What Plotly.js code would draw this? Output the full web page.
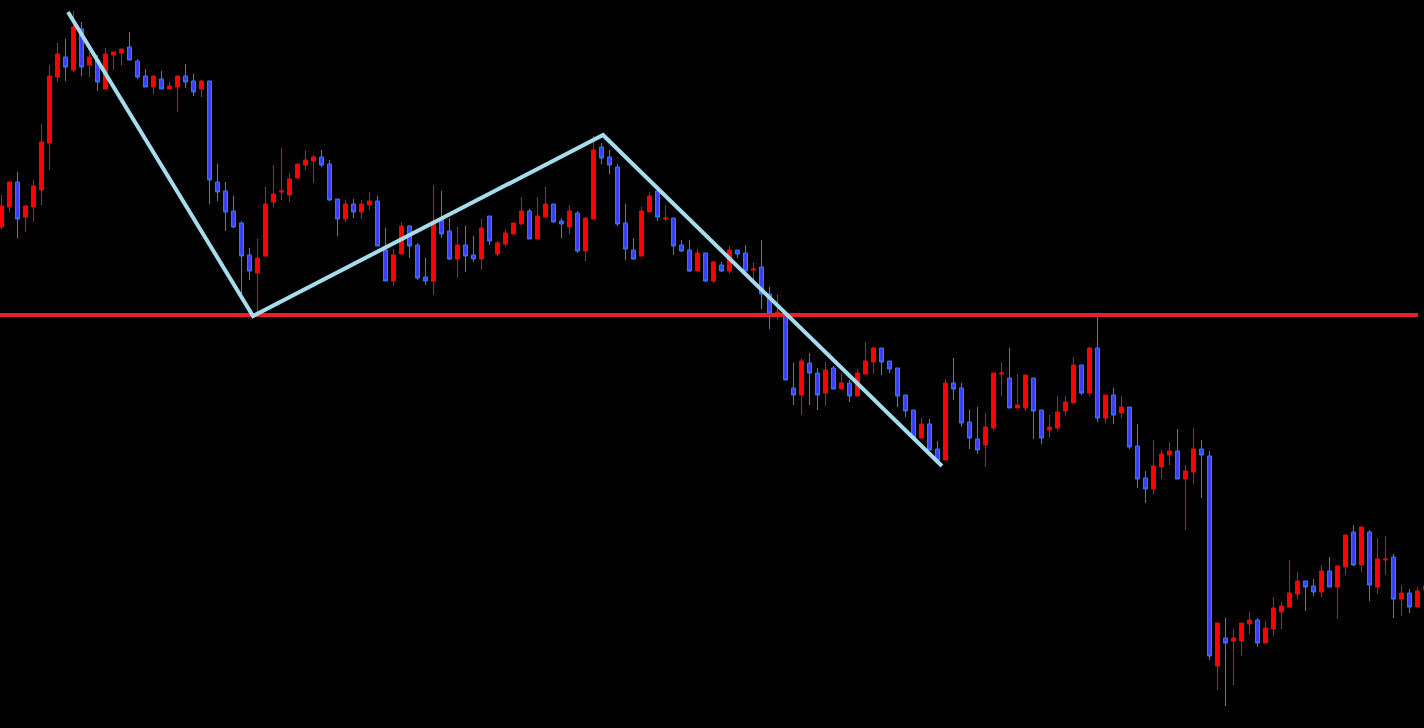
<!DOCTYPE html>
<html>
<head>
<meta charset="utf-8">
<script src="https://cdn.plot.ly/plotly-3.0.1.min.js"></script>
<style>html,body{margin:0;padding:0;background:#000;}#chart{width:1424px;height:728px;}</style>
</head>
<body>
<div id="chart"></div>
<script>
const openP = [
1.2573,1.2593,1.2618,1.2583,1.2593,1.2610,1.2657,1.2723,1.2743,1.2730,
1.2771,1.2735,1.2740,1.2711,1.2745,1.2747,1.2753,1.2739,1.2724,1.2713,
1.2721,1.2711,1.2713,1.2724,1.2719,1.2711,1.2719,1.2618,1.2609,1.2589,
1.2577,1.2545,1.2527,1.2544,1.2598,1.2608,1.2605,1.2622,1.2635,1.2639,
1.2643,1.2636,1.2601,1.2581,1.2596,1.2588,1.2595,1.2599,1.2550,1.2519,
1.2546,1.2574,1.2555,1.2523,1.2519,1.2580,1.2569,1.2541,1.2555,1.2545,
1.2541,1.2584,1.2546,1.2556,1.2566,1.2576,1.2589,1.2561,1.2583,1.2596,
1.2579,1.2573,1.2587,1.2549,1.2581,1.2653,1.2643,1.2633,1.2577,1.2550,
1.2544,1.2588,1.2609,1.2581,1.2582,1.2555,1.2550,1.2529,1.2547,1.2519,
1.2535,1.2529,1.2550,1.2547,1.2530,1.2533,1.2506,1.2484,1.2485,1.2412,
1.2405,1.2437,1.2427,1.2407,1.2432,1.2411,1.2417,1.2404,1.2426,1.2438,
1.2452,1.2439,1.2432,1.2405,1.2390,1.2362,1.2376,1.2351,1.2340,1.2417,
1.2412,1.2378,1.2361,1.2355,1.2372,1.2426,1.2422,1.2392,1.2392,1.2422,
1.2390,1.2370,1.2372,1.2389,1.2397,1.2435,1.2407,1.2452,1.2382,1.2405,
1.2387,1.2393,1.2354,1.2322,1.2311,1.2333,1.2345,1.2349,1.2321,1.2328,
1.2351,1.2344,1.2134,1.2162,1.2159,1.2159,1.2176,1.2180,1.2157,1.2171,
1.2188,1.2193,1.2206,1.2219,1.2214,1.2208,1.2229,1.2213,1.2233,1.2268,
1.2235,1.2268,1.2213,1.2240,1.2243,1.2201,1.2207,1.2193,1.2210];
const highP = [
1.2605,1.2618,1.2628,1.2595,1.2620,1.2676,1.2735,1.2757,1.2761,1.2789,
1.2778,1.2748,1.2745,1.2752,1.2748,1.2751,1.2768,1.2741,1.2731,1.2724,
1.2729,1.2718,1.2724,1.2736,1.2726,1.2720,1.2719,1.2636,1.2618,1.2604,
1.2579,1.2552,1.2561,1.2613,1.2635,1.2652,1.2627,1.2636,1.2649,1.2645,
1.2650,1.2640,1.2601,1.2600,1.2601,1.2600,1.2608,1.2604,1.2572,1.2551,
1.2578,1.2575,1.2557,1.2542,1.2615,1.2609,1.2582,1.2573,1.2574,1.2564,
1.2581,1.2584,1.2559,1.2571,1.2577,1.2603,1.2591,1.2603,1.2613,1.2596,
1.2582,1.2595,1.2589,1.2582,1.2664,1.2657,1.2650,1.2636,1.2596,1.2562,
1.2593,1.2608,1.2612,1.2595,1.2582,1.2560,1.2560,1.2551,1.2547,1.2539,
1.2538,1.2554,1.2550,1.2555,1.2537,1.2560,1.2513,1.2505,1.2487,1.2437,
1.2441,1.2447,1.2432,1.2438,1.2434,1.2427,1.2420,1.2431,1.2458,1.2453,
1.2452,1.2439,1.2432,1.2405,1.2390,1.2382,1.2381,1.2359,1.2421,1.2442,
1.2417,1.2390,1.2393,1.2387,1.2427,1.2438,1.2452,1.2426,1.2425,1.2422,
1.2390,1.2385,1.2404,1.2404,1.2443,1.2435,1.2453,1.2483,1.2405,1.2412,
1.2404,1.2393,1.2376,1.2329,1.2360,1.2350,1.2358,1.2371,1.2335,1.2372,
1.2360,1.2349,1.2177,1.2182,1.2171,1.2177,1.2188,1.2182,1.2179,1.2203,
1.2198,1.2240,1.2228,1.2219,1.2221,1.2235,1.2243,1.2234,1.2265,1.2275,
1.2273,1.2270,1.2262,1.2264,1.2246,1.2215,1.2211,1.2213,1.2218];
const lowP = [
1.2571,1.2588,1.2562,1.2568,1.2578,1.2595,1.2630,1.2718,1.2719,1.2728,
1.2724,1.2723,1.2709,1.2711,1.2730,1.2735,1.2740,1.2721,1.2713,1.2706,
1.2711,1.2711,1.2688,1.2712,1.2704,1.2703,1.2596,1.2599,1.2569,1.2572,
1.2501,1.2520,1.2487,1.2544,1.2593,1.2600,1.2598,1.2622,1.2630,1.2617,
1.2633,1.2599,1.2564,1.2578,1.2582,1.2581,1.2590,1.2554,1.2519,1.2514,
1.2546,1.2542,1.2520,1.2515,1.2505,1.2562,1.2540,1.2522,1.2528,1.2538,
1.2530,1.2555,1.2544,1.2554,1.2566,1.2576,1.2561,1.2561,1.2583,1.2578,
1.2562,1.2566,1.2547,1.2539,1.2581,1.2636,1.2626,1.2574,1.2540,1.2540,
1.2544,1.2588,1.2579,1.2579,1.2545,1.2548,1.2528,1.2529,1.2518,1.2517,
1.2528,1.2527,1.2542,1.2529,1.2520,1.2491,1.2471,1.2480,1.2420,1.2395,
1.2385,1.2395,1.2390,1.2394,1.2411,1.2411,1.2398,1.2404,1.2426,1.2426,
1.2425,1.2427,1.2393,1.2383,1.2362,1.2362,1.2350,1.2338,1.2340,1.2400,
1.2373,1.2351,1.2346,1.2333,1.2370,1.2404,1.2392,1.2392,1.2389,1.2361,
1.2356,1.2362,1.2370,1.2385,1.2397,1.2405,1.2404,1.2378,1.2377,1.2376,
1.2382,1.2351,1.2312,1.2297,1.2306,1.2321,1.2335,1.2321,1.2270,1.2316,
1.2302,1.2140,1.2110,1.2094,1.2115,1.2144,1.2166,1.2153,1.2157,1.2164,
1.2171,1.2193,1.2201,1.2189,1.2204,1.2203,1.2213,1.2181,1.2225,1.2234,
1.2228,1.2199,1.2206,1.2225,1.2182,1.2184,1.2187,1.2193,1.2206];
const closeP = [
1.2594,1.2618,1.2581,1.2594,1.2614,1.2658,1.2724,1.2746,1.2733,1.2773,
1.2733,1.2743,1.2718,1.2746,1.2748,1.2751,1.2740,1.2723,1.2713,1.2724,
1.2711,1.2714,1.2724,1.2718,1.2708,1.2719,1.2620,1.2608,1.2588,1.2573,
1.2544,1.2529,1.2542,1.2596,1.2606,1.2609,1.2621,1.2636,1.2640,1.2643,
1.2635,1.2600,1.2581,1.2596,1.2588,1.2596,1.2599,1.2554,1.2519,1.2545,
1.2574,1.2554,1.2522,1.2519,1.2579,1.2566,1.2541,1.2555,1.2544,1.2541,
1.2572,1.2559,1.2557,1.2567,1.2577,1.2589,1.2561,1.2584,1.2596,1.2578,
1.2576,1.2589,1.2549,1.2582,1.2650,1.2642,1.2635,1.2576,1.2551,1.2541,
1.2589,1.2604,1.2583,1.2582,1.2554,1.2549,1.2529,1.2547,1.2519,1.2538,
1.2529,1.2550,1.2546,1.2529,1.2531,1.2506,1.2487,1.2488,1.2420,1.2405,
1.2439,1.2427,1.2405,1.2430,1.2411,1.2417,1.2404,1.2427,1.2439,1.2452,
1.2438,1.2431,1.2404,1.2389,1.2362,1.2376,1.2350,1.2340,1.2417,1.2411,
1.2377,1.2362,1.2350,1.2373,1.2427,1.2427,1.2392,1.2395,1.2425,1.2389,
1.2362,1.2373,1.2388,1.2398,1.2435,1.2407,1.2452,1.2382,1.2405,1.2385,
1.2393,1.2353,1.2321,1.2311,1.2334,1.2346,1.2349,1.2321,1.2329,1.2351,
1.2345,1.2144,1.2177,1.2157,1.2162,1.2177,1.2180,1.2157,1.2172,1.2192,
1.2194,1.2207,1.2219,1.2213,1.2208,1.2229,1.2213,1.2234,1.2265,1.2235,
1.2273,1.2215,1.2241,1.2241,1.2201,1.2207,1.2193,1.2209,1.2214];
const barIndex = openP.map((_, i) => i);

// zigzag pattern line (bar index, price)
const zigzagX = [8.31, 31.44, 75.19, 117.56];
const zigzagY = [1.2788, 1.2484, 1.2665, 1.2334];

// horizontal support level
const levelPrice = 1.2485;
const levelX = [-1, 177.06];

const traces = [
  {
    type: 'candlestick',
    x: barIndex, open: openP, high: highP, low: lowP, close: closeP,
    increasing: {line: {color: '#ff0000', width: 1}, fillcolor: '#ff0000'},
    decreasing: {line: {color: '#2f7fff', width: 1}, fillcolor: '#3d3dff'},
    whiskerwidth: 0,
    hoverinfo: 'none', showlegend: false
  },
  {
    type: 'scatter', mode: 'lines',
    x: levelX, y: [levelPrice, levelPrice],
    line: {color: '#e8202a', width: 4},
    hoverinfo: 'none', showlegend: false
  },
  {
    type: 'scatter', mode: 'lines',
    x: zigzagX, y: zigzagY,
    line: {color: '#a6dcee', width: 4},
    hoverinfo: 'none', showlegend: false
  }
];

const layout = {
  width: 1424, height: 728,
  margin: {l: 0, r: 0, t: 0, b: 0, pad: 0},
  paper_bgcolor: '#000000', plot_bgcolor: '#000000',
  showlegend: false,
  boxgap: 0.3, boxgroupgap: 0.3,
  xaxis: {range: [-0.1875, 177.8125], visible: false, showgrid: false, zeroline: false, rangeslider: {visible: false}, fixedrange: true},
  yaxis: {range: [1.2072, 1.2800], visible: false, showgrid: false, zeroline: false, fixedrange: true}
};

Plotly.newPlot('chart', traces, layout, {displayModeBar: false, staticPlot: true});
</script>
</body>
</html>
